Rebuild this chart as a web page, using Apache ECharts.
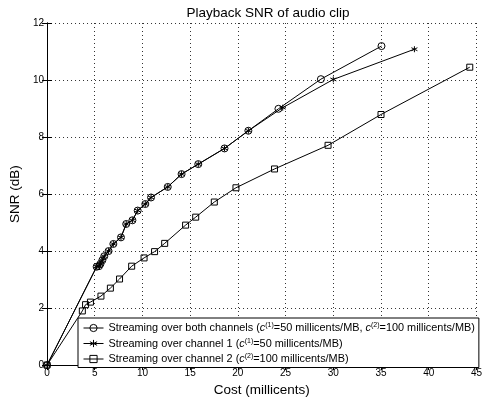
<!DOCTYPE html>
<html>
<head>
<meta charset="utf-8">
<script src="https://cdn.jsdelivr.net/npm/echarts@6/dist/echarts.min.js"></script>
<style>
  html, body { margin: 0; padding: 0; background: #fff; }
  #chart { width: 485px; height: 402px; }
</style>
</head>
<body>
<div id="chart"></div>
<script>
// shared part of the two upper curves (both channels / channel 1)
const sharedPts = [
  [0, 0], [5.2, 3.45], [5.45, 3.47], [5.6, 3.55], [5.8, 3.68], [6.0, 3.82],
  [6.45, 4.0], [6.95, 4.25], [7.75, 4.48], [8.3, 4.95], [8.95, 5.08],
  [9.5, 5.42], [10.3, 5.65], [10.9, 5.88], [12.65, 6.25], [14.1, 6.7],
  [15.85, 7.05], [18.6, 7.6], [21.1, 8.22]
];
const bothTail = [[24.25, 8.99], [28.7, 10.03], [35.05, 11.19]];
const ch1Tail = [[24.7, 9.03], [30.0, 10.02], [38.5, 11.08]];
const ch2Pts = [
  [0, 0], [3.7, 1.9], [4.04, 2.12], [4.55, 2.21], [5.65, 2.42], [6.64, 2.7],
  [7.6, 3.02], [8.87, 3.47], [10.17, 3.76], [11.27, 3.98], [12.33, 4.27],
  [14.52, 4.91], [15.58, 5.19], [17.53, 5.72], [19.8, 6.22], [23.84, 6.88],
  [29.45, 7.71], [35.0, 8.79], [44.3, 10.45]
];

const seriesNames = ['both', 'ch1', 'ch2'];
const legendText = {
  both: 'Streaming over both channels ({it|c}{sup|(1)}=50 millicents/MB, {it|c}{sup|(2)}=100 millicents/MB)',
  ch1: 'Streaming over channel 1 ({it|c}{sup|(1)}=50 millicents/MB)',
  ch2: 'Streaming over channel 2 ({it|c}{sup|(2)}=100 millicents/MB)'
};

const font = 'Liberation Sans, Arial, sans-serif';
const star = 'path://M0,-5L0,5M-4.33,-2.5L4.33,2.5M-4.33,2.5L4.33,-2.5';

const chart = echarts.init(document.getElementById('chart'));

const axisCommon = {
  axisLine: { lineStyle: { color: '#000', width: 1 } },
  axisTick: { inside: true, length: 5, lineStyle: { color: '#000' } }
};

chart.setOption({
  animation: false,
  title: {
    text: 'Playback SNR of audio clip',
    left: 263, top: 1, textAlign: 'center',
    textStyle: { fontFamily: font, fontSize: 13.5, fontWeight: 'normal', color: '#000' }
  },
  grid: { left: 43, right: 4, top: 23, bottom: 32 },
  legend: {
    orient: 'vertical',
    left: 78, top: 318,
    data: seriesNames,
    formatter: (name) => legendText[name],
    backgroundColor: '#fff',
    borderColor: '#000', borderWidth: 1, borderRadius: 0,
    padding: [4, 4, 3, 5],
    itemWidth: 20, itemHeight: 9, itemGap: 4,
    lineStyle: { width: 1 },
    itemStyle: { borderWidth: 1 },
    textStyle: {
      fontFamily: font, fontSize: 10.9, color: '#000',
      rich: {
        it: { fontFamily: font, fontSize: 10.9, fontStyle: 'italic', color: '#000' },
        sup: { fontFamily: font, fontSize: 7, color: '#000', padding: [0, 0, 5, 0] }
      }
    }
  },
  xAxis: [
    Object.assign({
      type: 'value', min: 0, max: 45, interval: 5,
      name: 'Cost (millicents)', nameLocation: 'middle', nameGap: 12,
      nameTextStyle: { fontFamily: font, fontSize: 13.5, color: '#000' },
      axisLabel: { fontFamily: font, fontSize: 10, color: '#000', margin: 3 },
      splitLine: { show: true, lineStyle: { color: '#333', type: [1, 3], width: 1 } }
    }, axisCommon),
    Object.assign({
      type: 'value', position: 'top', min: 0, max: 45, interval: 5,
      axisLabel: { show: false }, splitLine: { show: false }
    }, axisCommon)
  ],
  yAxis: [
    Object.assign({
      type: 'value', min: 0, max: 12, interval: 2,
      name: 'SNR (dB)', nameLocation: 'middle', nameGap: 17,
      nameTextStyle: { fontFamily: font, fontSize: 13.5, color: '#000' },
      axisLabel: { fontFamily: font, fontSize: 10, color: '#000', margin: 3 },
      splitLine: { show: true, lineStyle: { color: '#333', type: [1, 3], width: 1 } }
    }, axisCommon),
    Object.assign({
      type: 'value', position: 'right', min: 0, max: 12, interval: 2,
      axisLabel: { show: false }, splitLine: { show: false }
    }, axisCommon)
  ],
  series: [
    {
      name: 'both', type: 'line', data: sharedPts.concat(bothTail),
      symbol: 'circle', symbolSize: 7, showAllSymbol: true,
      lineStyle: { color: '#000', width: 1 },
      itemStyle: { color: 'rgba(255,255,255,0)', borderColor: '#000', borderWidth: 1 },
      emphasis: { disabled: true }
    },
    {
      name: 'ch1', type: 'line', data: sharedPts.concat(ch1Tail),
      symbol: star, symbolSize: 6, showAllSymbol: true,
      lineStyle: { color: '#000', width: 1 },
      itemStyle: { color: '#000', borderColor: '#000', borderWidth: 1 },
      emphasis: { disabled: true }
    },
    {
      name: 'ch2', type: 'line', data: ch2Pts,
      symbol: 'rect', symbolSize: 6, showAllSymbol: true,
      lineStyle: { color: '#000', width: 1 },
      itemStyle: { color: 'rgba(255,255,255,0)', borderColor: '#000', borderWidth: 1 },
      emphasis: { disabled: true }
    }
  ]
});
</script>
</body>
</html>
